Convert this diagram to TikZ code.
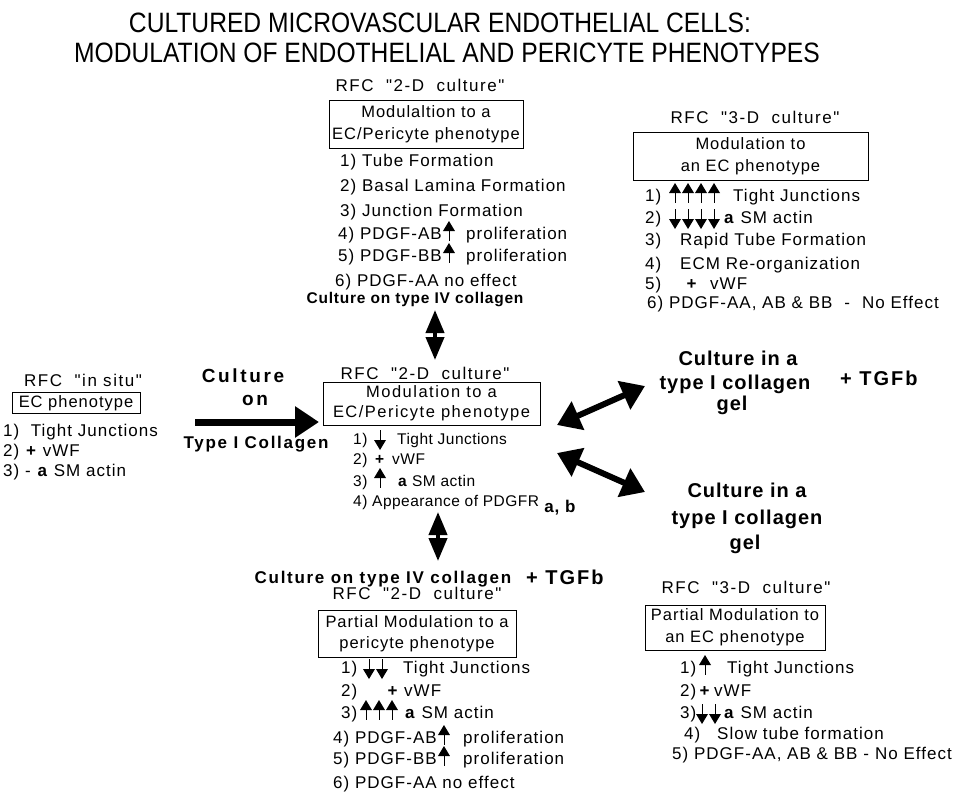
\documentclass[tikz,border=0pt]{standalone}
\usepackage{fontspec}
\setmainfont{Liberation Sans}
\newfontfamily\bodyf[LetterSpace=6]{Liberation Sans}
\newfontfamily\smallf[LetterSpace=3]{Liberation Sans}
\newfontfamily\widef[LetterSpace=9]{Liberation Sans}
\newfontfamily\titlef[FakeStretch=0.88]{Liberation Sans}
\newfontfamily\boldf[LetterSpace=5]{Liberation Sans}
\newfontfamily\boldw[LetterSpace=10]{Liberation Sans}
\newfontfamily\boldx[LetterSpace=14]{Liberation Sans}
\usetikzlibrary{arrows.meta,calc}
\tikzset{
  tx/.style={anchor=base west, inner sep=0pt, font=\bodyf\fontsize{17}{19}\selectfont},
  ctx/.style={anchor=base, inner sep=0pt, font=\bodyf\fontsize{17}{19}\selectfont},
  stx/.style={anchor=base west, inner sep=0pt, font=\smallf\fontsize{15.5}{18}\selectfont},
  sctx/.style={anchor=base, inner sep=0pt, font=\smallf\fontsize{15.5}{18}\selectfont},
  rfc/.style={anchor=base, inner sep=0pt, font=\widef\fontsize{17}{19}\selectfont},
  bl/.style={anchor=base, inner sep=0pt, font=\boldf\bfseries\fontsize{15.5}{18}\selectfont},
  blb/.style={anchor=base, inner sep=0pt, font=\boldw\bfseries\fontsize{17}{20}\selectfont},
  blr/.style={anchor=base, inner sep=0pt, font=\boldf\bfseries\fontsize{20}{24}\selectfont},
  blrw/.style={anchor=base west, inner sep=0pt, font=\boldw\bfseries\fontsize{20}{24}\selectfont},
  blx/.style={anchor=base, inner sep=0pt, font=\boldx\bfseries\fontsize{19}{22}\selectfont},
  ttl/.style={anchor=base, inner sep=0pt, font=\titlef\fontsize{28}{30}\selectfont},
  pbox/.style={draw, line width=0.9pt, inner sep=0pt, align=center, font=\bodyf\fontsize{16.5}{22}\selectfont},
  fatone/.style={line width=7pt, -{Triangle[length=24pt,width=30pt]}},
  fattwo/.style={line width=6pt, {Triangle[length=23pt,width=30pt]}-{Triangle[length=23pt,width=30pt]}},
  vdbl/.style={line width=4pt, {Triangle[length=23pt,width=18pt]}-{Triangle[length=23pt,width=18pt]}},
  uparr/.pic={\fill (0,-12) -- (-6,-2) -- (6,-2) -- cycle; \draw[line width=0.9pt] (0,-2) -- (0,8);},
  dnarr/.pic={\fill (0,12) -- (-6,2) -- (6,2) -- cycle; \draw[line width=0.9pt] (0,2) -- (0,-8);},
}
\begin{document}
\begin{tikzpicture}[x=1pt,y=-1pt]
\path[use as bounding box, fill=white] (0,0) rectangle (964,806);

% title
\node[ttl] (ti1) at (440,32) {CULTURED MICROVASCULAR ENDOTHELIAL CELLS:};
\node[ttl] (ti2) at (447,62) {MODULATION OF ENDOTHELIAL AND PERICYTE PHENOTYPES};

% top centre block
\node[rfc] (t0) at (420,91) {RFC\ \ "2-D\ \ culture"};
\node[pbox, minimum width=194pt, minimum height=48pt] (t1) at (426,124) {Modulaltion to a\\EC/Pericyte phenotype};
\node[tx] (t2) at (340,166) {1) Tube Formation};
\node[tx] (t3) at (340,191) {2) Basal Lamina Formation};
\node[tx] (t4) at (340,216) {3) Junction Formation};
\node[tx] (t5) at (338,239) {4) PDGF-AB};
\pic at ($(t5.base east)+(7,-6)$) {uparr};
\node[tx] (t5b) at ($(t5.base east)+(24,0)$) {proliferation};
\node[tx] (t6) at (338,261) {5) PDGF-BB};
\pic at ($(t6.base east)+(7,-6)$) {uparr};
\node[tx] (t6b) at ($(t6.base east)+(24,0)$) {proliferation};
\node[tx] (t7) at (335,286) {6) PDGF-AA no effect};
\node[bl] (t8) at (415,303) {Culture on type IV collagen};

\coordinate (va1a) at (435,310);
\coordinate (va1b) at (435,360);
\draw[vdbl] (va1a) -- (va1b);

% top right block
\node[rfc] (r0) at (755,123) {RFC\ \ "3-D\ \ culture"};
\node[pbox, minimum width=235pt, minimum height=48pt] (r1) at (750.5,156) {Modulation to\\an EC phenotype};
\node[tx] (r2) at (645,201) {1)};
\foreach \xx in {675,688,701,714} {\pic at (\xx,195) {uparr};}
\node[tx] (r2b) at (733,201) {Tight Junctions};
\node[tx] (r3) at (645,223) {2)};
\foreach \xx in {675,688,701,714} {\pic at (\xx,217) {dnarr};}
\node[tx] (r3b) at (724,223) {\textbf{a} SM actin};
\node[tx] (r4) at (645,245) {3)};
\node[tx] (r4b) at (680,245) {Rapid Tube Formation};
\node[tx] (r5) at (645,269) {4)};
\node[tx] (r5b) at (680,269) {ECM Re-organization};
\node[tx] (r6) at (645,289) {5)};
\node[ctx] (r6p) at (692,289) {\textbf{+}};
\node[tx] (r6b) at (710,289) {vWF};
\node[tx] (r7) at (647,308) {6) PDGF-AA, AB \& BB\hspace{12pt}-\hspace{12pt}No Effect};

% left block
\node[rfc] (l0) at (83,386) {RFC\ \ "in situ"};
\node[pbox, minimum width=128pt, minimum height=21pt] (l1) at (76,403) {EC phenotype};
\node[tx] (l2) at (3,436) {1)\ \ Tight Junctions};
\node[tx] (l3) at (3,456) {2) \textbf{+} vWF};
\node[tx] (l4) at (3,476) {3) - \textbf{a} SM actin};

\node[blx] (k1) at (243,382) {Culture};
\node[blx] (k2) at (255,405) {on};
\node[blb] (k3) at (256,448) {Type I Collagen};

% centre block
\node[rfc] (c0) at (425,379) {RFC\ \ "2-D\ \ culture"};
\node[pbox, minimum width=217pt, minimum height=43pt, font=\widef\fontsize{16.5}{20}\selectfont] (c1) at (431.5,403.5) {Modulation to a\\EC/Pericyte phenotype};
\coordinate (a0) at (195,422);
\coordinate (a1) at (319,422);
\draw[fatone] (a0) -- (a1);
\node[stx] (c2) at (353,444) {1)};
\pic at (380,438) {dnarr};
\node[stx] (c2b) at (397,444) {Tight Junctions};
\node[stx] (c3) at (353,464) {2)};
\node[sctx] (c3p) at (380,464) {\textbf{+}};
\node[stx] (c3b) at (392,464) {vWF};
\node[stx] (c4) at (353,486) {3)};
\pic at (380,480) {uparr};
\node[stx] (c4b) at (398,486) {\textbf{a} SM actin};
\node[stx] (c5) at (353,506) {4) Appearance of PDGFR};
\node[anchor=base west, inner sep=0pt, font=\boldf\bfseries\fontsize{17}{20}\selectfont] (c5s) at ($(c5.base east)+(5,6)$) {a, b};

\coordinate (va2a) at (438,512);
\coordinate (va2b) at (438,561);
\draw[vdbl] (va2a) -- (va2b);

% right diagonal arrows
\coordinate (d1a) at (557,425);
\coordinate (d1b) at (645,386);
\draw[fattwo] (d1a) -- (d1b);
\coordinate (d2a) at (557,453);
\coordinate (d2b) at (645,492);
\draw[fattwo] (d2a) -- (d2b);

\node[blr] (u1) at (738,365) {Culture in a};
\node[blr] (u2) at (735,389) {type I collagen};
\node[blr] (u3) at (732,410) {gel};
\node[blrw] (u4) at (840,385) {+ TGFb};

\node[blr] (w1) at (747,497) {Culture in a};
\node[blr] (w2) at (747,524) {type I collagen};
\node[blr] (w3) at (745,549) {gel};

% bottom centre block
\node[blb] (b0) at (383,583) {Culture on type IV collagen};
\node[blrw] (b0b) at (526,584) {+ TGFb};
\node[rfc] (b1) at (417,599) {RFC\ \ "2-D\ \ culture"};
\node[pbox, minimum width=198pt, minimum height=47pt, font=\bodyf\fontsize{16.5}{21}\selectfont] (b2) at (417,633.5) {Partial Modulation to a\\pericyte phenotype};
\node[tx] (b3) at (341,673) {1)};
\foreach \xx in {369,382} {\pic at (\xx,667) {dnarr};}
\node[tx] (b3b) at (403,673) {Tight Junctions};
\node[tx] (b4) at (341,696) {2)};
\node[ctx] (b4p) at (393,696) {\textbf{+}};
\node[tx] (b4b) at (404,696) {vWF};
\node[tx] (b5) at (341,718) {3)};
\foreach \xx in {366,379,392} {\pic at (\xx,712) {uparr};}
\node[tx] (b5b) at (405,718) {\textbf{a} SM actin};
\node[tx] (b6) at (333,743) {4) PDGF-AB};
\pic at ($(b6.base east)+(7,-6)$) {uparr};
\node[tx] (b6b) at ($(b6.base east)+(26,0)$) {proliferation};
\node[tx] (b7) at (333,764) {5) PDGF-BB};
\pic at ($(b7.base east)+(7,-6)$) {uparr};
\node[tx] (b7b) at ($(b7.base east)+(26,0)$) {proliferation};
\node[tx] (b8) at (333,788) {6) PDGF-AA no effect};

% bottom right block
\node[rfc] (e0) at (746,593) {RFC\ \ "3-D\ \ culture"};
\node[pbox, minimum width=180pt, minimum height=45pt] (e1) at (735,627.5) {Partial Modulation to\\an EC phenotype};
\node[tx] (e2) at (680,673) {1)};
\pic at (705,667) {uparr};
\node[tx] (e2b) at (727,673) {Tight Junctions};
\node[tx] (e3) at (680,696) {2)};
\node[ctx] (e3p) at (705,696) {\textbf{+}};
\node[tx] (e3b) at (714,696) {vWF};
\node[tx] (e4) at (680,718) {3)};
\foreach \xx in {702,715} {\pic at (\xx,712) {dnarr};}
\node[tx] (e4b) at (724,718) {\textbf{a} SM actin};
\node[tx] (e5) at (684,739) {4)};
\node[tx] (e5b) at (717,739) {Slow tube formation};
\node[tx] (e6) at (672,759) {5) PDGF-AA, AB \& BB\hspace{6pt}-\hspace{6pt}No Effect};
\end{tikzpicture}
\end{document}
